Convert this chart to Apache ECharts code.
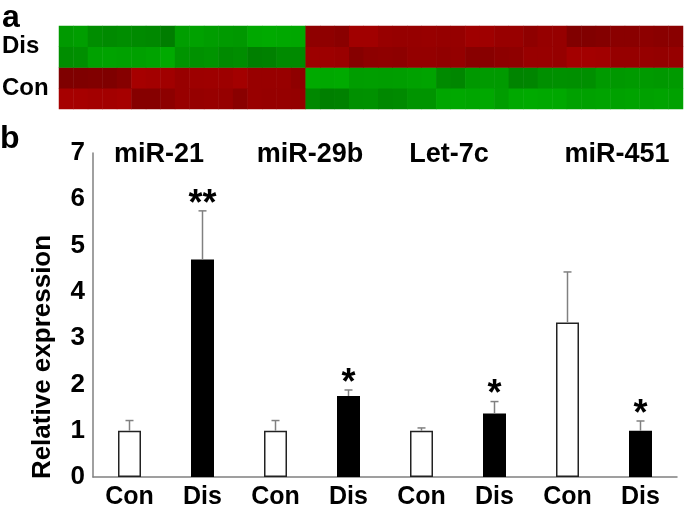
<!DOCTYPE html>
<html>
<head>
<meta charset="utf-8">
<script src="https://cdn.jsdelivr.net/npm/echarts@6/dist/echarts.min.js"></script>
<style>
  html, body { margin: 0; padding: 0; background: #fff; }
  #main { width: 685px; height: 508px; }
</style>
</head>
<body>
<div id="main"></div>
<script>
// panel a: heatmap rows (17 miRNAs down in Dis, 26 up in Dis), values = log ratio
var disTop = [-0.74, -0.77, -0.62, -0.6, -0.62, -0.6, -0.58, -0.48, -0.77, -0.8, -0.76, -0.74, -0.72, -0.86, -0.88, -0.86, -0.85,
  0.64, 0.64, 0.6, 0.8, 0.8, 0.72, 0.7, 0.7, 0.72, 0.7, 0.7, 0.78, 0.78, 0.72, 0.72, 0.64, 0.7, 0.7, 0.52, 0.52, 0.54, 0.6, 0.6, 0.62, 0.6, 0.6];
var disBot = [-0.62, -0.64, -0.8, -0.82, -0.8, -0.79, -0.82, -0.88, -0.68, -0.66, -0.68, -0.6, -0.62, -0.5, -0.52, -0.6, -0.6,
  0.76, 0.76, 0.74, 0.56, 0.62, 0.64, 0.62, 0.68, 0.68, 0.66, 0.68, 0.58, 0.58, 0.62, 0.64, 0.72, 0.72, 0.7, 0.82, 0.82, 0.8, 0.7, 0.7, 0.7, 0.68, 0.7];
var conTop = [0.5, 0.5, 0.52, 0.5, 0.56, 0.84, 0.82, 0.8, 0.72, 0.76, 0.77, 0.76, 0.82, 0.72, 0.72, 0.72, 0.64,
  -0.88, -0.86, -0.88, -0.76, -0.77, -0.76, -0.77, -0.8, -0.82, -0.6, -0.56, -0.72, -0.74, -0.74, -0.54, -0.55, -0.64, -0.65, -0.64, -0.64, -0.74, -0.72, -0.74, -0.74, -0.72, -0.74];
var conBot = [0.84, 0.84, 0.82, 0.82, 0.84, 0.56, 0.56, 0.62, 0.72, 0.7, 0.72, 0.7, 0.6, 0.72, 0.7, 0.7, 0.68,
  -0.58, -0.5, -0.52, -0.65, -0.66, -0.58, -0.6, -0.68, -0.68, -0.84, -0.86, -0.84, -0.86, -0.76, -0.86, -0.88, -0.86, -0.86, -0.8, -0.8, -0.82, -0.8, -0.82, -0.8, -0.82, -0.8];
var heatRowLabels = ['Con', 'Dis'];

// panel b: qPCR
var groups = ['miR-21', 'miR-29b', 'Let-7c', 'miR-451'];
var categories = ['Con', 'Dis', 'Con', 'Dis', 'Con', 'Dis', 'Con', 'Dis'];
var conMean = [1.0, 1.0, 1.0, 3.34];
var conErr = [0.22, 0.22, 0.06, 1.09];
var disMean = [4.70, 1.75, 1.37, 1.0];
var disErr = [1.05, 0.13, 0.26, 0.21];
var stars = ['**', '*', '*', '*'];
var yTicks = [0, 1, 2, 3, 4, 5, 6, 7];

var arial = "'Liberation Sans', Arial, sans-serif";

var heatRows = [conBot, conTop, disBot, disTop];
var heatData = [];
heatRows.forEach(function (row, y) {
  row.forEach(function (v, x) { heatData.push([x, y, v]); });
});
var heatCols = disTop.map(function (v, i) { return String(i); });

var barData = [];
var errData = [];
for (var i = 0; i < groups.length; i++) {
  barData.push({ value: conMean[i], itemStyle: { color: '#fff', borderColor: '#222', borderWidth: 1.5 } });
  barData.push({ value: disMean[i], itemStyle: { color: '#000', borderColor: '#000', borderWidth: 1.5 } });
  errData.push([2 * i, conMean[i], conMean[i] + conErr[i], '']);
  errData.push([2 * i + 1, disMean[i], disMean[i] + disErr[i], stars[i]]);
}

// group titles are not exactly centred over their pair of bars
var titleStyle = { color: '#000', fontSize: 27, fontWeight: 'bold', fontFamily: arial };
var titleRich = {
  g0: Object.assign({ padding: [0, 14, 0, 0] }, titleStyle),
  g1: Object.assign({ padding: [0, 4, 0, 0] }, titleStyle),
  g2: Object.assign({ padding: [0, 18, 0, 0] }, titleStyle),
  g3: Object.assign({ padding: [0, 0, 0, 26] }, titleStyle)
};

var myChart = echarts.init(document.getElementById('main'));
var option = {
  animation: false,
  backgroundColor: '#fff',
  graphic: [
    { type: 'text', left: 2, top: 2, style: { text: 'a', font: 'bold 32px ' + arial, fill: '#000' } },
    { type: 'text', left: 0, top: 123, style: { text: 'b', font: 'bold 32px ' + arial, fill: '#000' } },
    { type: 'text', x: 43, y: 357, rotation: Math.PI / 2,
      style: { text: 'Relative expression', font: 'bold 26px ' + arial, fill: '#000', align: 'center', verticalAlign: 'middle' } }
  ],
  visualMap: {
    show: false, type: 'continuous', seriesIndex: 0, min: -1, max: 1,
    inRange: { color: ['#00b800', '#006c00', '#6c0000', '#b80000'] }
  },
  grid: [
    { left: 59, top: 26, width: 624, height: 83, outerBoundsMode: 'none' },
    { left: 93, top: 153, right: 8, bottom: 31, outerBoundsMode: 'none' }
  ],
  xAxis: [
    { gridIndex: 0, type: 'category', data: heatCols, show: false },
    { gridIndex: 1, type: 'category', data: categories,
      axisLine: { lineStyle: { color: '#808080', width: 1.5 } },
      axisTick: { show: false },
      axisLabel: { color: '#000', fontSize: 25, fontWeight: 'bold', fontFamily: arial, margin: 8, interval: 0 } },
    { gridIndex: 1, type: 'category', data: groups, position: 'top',
      axisLine: { show: false }, axisTick: { show: false },
      axisLabel: { color: '#000', fontSize: 27, fontWeight: 'bold', fontFamily: arial, margin: -2,
        verticalAlign: 'middle', interval: 0, rich: titleRich,
        formatter: function (value, idx) { return '{g' + idx + '|' + value + '}'; } } }
  ],
  yAxis: [
    { gridIndex: 0, type: 'category', data: ['0', '1', '2', '3'], show: false },
    { gridIndex: 0, type: 'category', data: heatRowLabels, position: 'left',
      axisLine: { show: false }, axisTick: { show: false },
      axisLabel: { color: '#000', fontSize: 24, fontWeight: 'bold', fontFamily: arial, align: 'left', margin: 57 } },
    { gridIndex: 1, type: 'value', min: yTicks[0], max: yTicks[yTicks.length - 1], interval: 1,
      axisLine: { show: true, lineStyle: { color: '#808080', width: 1.5 } },
      axisTick: { show: false }, splitLine: { show: false },
      axisLabel: { color: '#000', fontSize: 26, fontWeight: 'bold', fontFamily: arial, margin: 8 } }
  ],
  series: [
    { type: 'heatmap', xAxisIndex: 0, yAxisIndex: 0, data: heatData, progressive: 0 },
    { type: 'bar', xAxisIndex: 1, yAxisIndex: 2, data: barData, barWidth: 23 },
    { type: 'custom', xAxisIndex: 1, yAxisIndex: 2, data: errData, z: 5,
      renderItem: function (params, api) {
        var base = api.coord([api.value(0), api.value(1)]);
        var top = api.coord([api.value(0), api.value(2)]);
        var star = errData[params.dataIndex][3];
        var lineStyle = { stroke: '#808080', lineWidth: 1.5 };
        var children = [
          { type: 'line', shape: { x1: base[0], y1: base[1], x2: top[0], y2: top[1] }, style: lineStyle },
          { type: 'line', shape: { x1: top[0] - 4, y1: top[1], x2: top[0] + 4, y2: top[1] }, style: lineStyle }
        ];
        if (star) {
          children.push({ type: 'text', x: top[0], y: top[1] - 6,
            style: { text: star, font: 'bold 36px ' + arial, fill: '#000', align: 'center', verticalAlign: 'middle' } });
        }
        return { type: 'group', children: children };
      }
    }
  ]
};
myChart.setOption(option);
window.onresize = function () {
  myChart.resize();
};
</script>
</body>
</html>
